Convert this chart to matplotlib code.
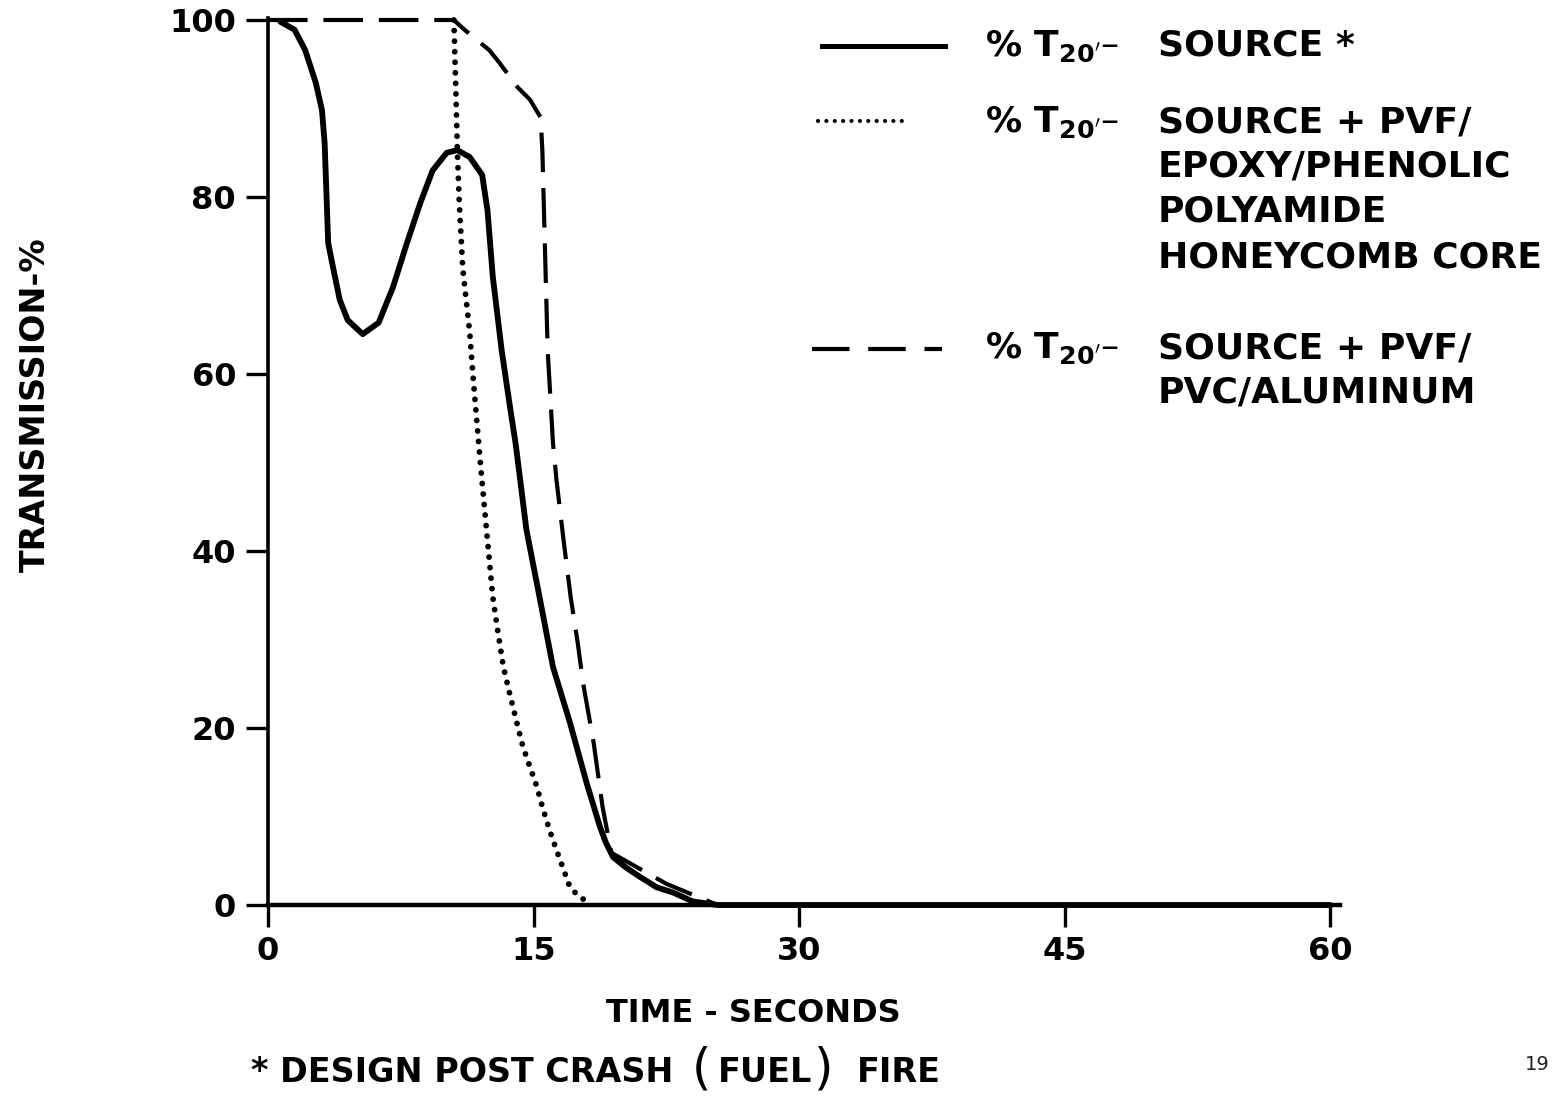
import matplotlib
matplotlib.use("Agg")
import matplotlib.pyplot as plt
from matplotlib.lines import Line2D

plt.rcParams["font.family"] = ["DejaVu Sans"]
plt.rcParams["font.weight"] = "bold"
plt.rcParams["mathtext.fontset"] = "dejavusans"
plt.rcParams["mathtext.default"] = "bf"

# time (s) and transmission (%)
t_source = [0.7, 1.5, 2.1, 2.7, 3.05, 3.2, 3.3, 3.4, 3.7, 4.05, 4.5, 5.35, 6.25, 7.06,
            7.85, 8.6, 9.3, 10.1, 10.7, 11.4, 12.1, 12.4, 12.7, 13.2, 13.7, 14.0, 14.6,
            15.35, 16.1, 17.06, 18.0, 18.76, 19.1, 19.5, 20.25, 21.0, 21.96, 22.9, 24.0,
            25.4, 60]
v_source = [99.8, 98.9, 96.6, 92.9, 89.8, 86.1, 80.5, 74.8, 71.8, 68.4, 66.1, 64.5, 65.8,
            69.8, 74.8, 79.3, 83.0, 85.0, 85.3, 84.5, 82.5, 78.5, 71.0, 62.7, 55.9, 52.0,
            42.4, 34.7, 26.9, 20.6, 13.8, 8.8, 7.0, 5.4, 4.2, 3.2, 2.0, 1.4, 0.4, 0, 0]

t_epoxy = [10.5, 10.6, 10.7, 10.8, 11.0, 11.4, 11.6, 12.0, 12.4, 12.7, 13.0, 13.3, 13.7,
           14.06, 14.4, 14.8, 15.2, 15.5, 15.9, 16.3, 16.7, 17.06, 17.6, 18.2]
v_epoxy = [100, 93, 85.2, 79.7, 72, 64.6, 59.3, 49.9, 41.2, 34.8, 30.7, 26.9, 23.5, 20.6,
           17.9, 15.6, 13.3, 11.1, 8.5, 6.2, 4.0, 2.0, 0.9, 0.2]

t_alum = [0, 10.5, 11.1, 12.5, 13.1, 14.1, 14.8, 15.4, 15.5, 15.65, 15.8, 16.1, 16.3,
          16.7, 17.1, 17.5, 17.8, 18.4, 18.9, 19.4, 22.5, 25.4]
v_alum = [100, 100, 98.9, 96.6, 95.1, 92.4, 91, 89, 85.3, 74, 62.7, 52.2, 48, 41.2, 34.8,
          29.6, 25.1, 18.3, 11.1, 5.9, 2.4, 0]

x_ticks = [0, 15, 30, 45, 60]
y_ticks = [0, 20, 40, 60, 80, 100]

W, H = 1564, 1096
fig = plt.figure(figsize=(W / 100, H / 100), dpi=100)
ax = fig.add_axes([268 / W, 1 - 905 / H, (1340 - 268) / W, (905 - 18) / H])


def fx(px):
    return px / W


def fy(py):
    return 1 - py / H


ax.plot(t_source, v_source, color="black", lw=4.2, solid_capstyle="round",
        solid_joinstyle="round", clip_on=False)
ax.plot(t_epoxy, v_epoxy, color="black", lw=4.2, linestyle=(0, (0.01, 1.8)),
        dash_capstyle="round", clip_on=False)
ax.plot(t_alum, v_alum, color="black", lw=3.0, linestyle=(0, (9.5, 3.8)),
        clip_on=False)

ax.set_xlim(0, (1340 - 268) / 17.7)
ax.set_ylim(0, (905 - 18) / 8.85)
ax.set_xticks(x_ticks)
ax.set_yticks(y_ticks)
ax.tick_params(axis="both", direction="out", width=2.4, length=16, labelsize=23)
ax.tick_params(axis="y", pad=7)
ax.tick_params(axis="x", pad=6)
for lab in ax.get_xticklabels() + ax.get_yticklabels():
    lab.set_fontweight("bold")
for s in ["top", "right"]:
    ax.spines[s].set_visible(False)
ax.spines["left"].set_linewidth(2.6)
ax.spines["bottom"].set_linewidth(3.2)
ax.set_facecolor("none")

# axis titles
fig.text(fx(35), fy(405), "TRANSMISSION-%", rotation=90, ha="center", va="center",
         fontsize=24, fontweight="bold")
fig.text(fx(753), fy(1013), "TIME - SECONDS", ha="center", va="center",
         fontsize=23, fontweight="bold")

# footnote
fig.text(fx(250), fy(1072), "*", ha="left", va="center", fontsize=24, fontweight="bold")
fig.text(fx(280), fy(1072), "DESIGN POST CRASH", ha="left", va="center", fontsize=24,
         fontweight="bold")
fig.text(fx(692), fy(1070), "(", ha="left", va="center", fontsize=36, fontweight="normal")
fig.text(fx(718), fy(1072), "FUEL", ha="left", va="center", fontsize=24, fontweight="bold")
fig.text(fx(814), fy(1070), ")", ha="left", va="center", fontsize=36, fontweight="normal")
fig.text(fx(857), fy(1072), "FIRE", ha="left", va="center", fontsize=24, fontweight="bold")
fig.text(fx(1537), fy(1065), "19", ha="center", va="center", fontsize=14,
         fontweight="normal", color="#222222")

# legend samples
fig.add_artist(Line2D([fx(822), fx(945)], [fy(46), fy(46)], color="black", lw=3.6))
fig.add_artist(Line2D([fx(818), fx(904)], [fy(121), fy(121)], color="black", lw=3.0,
                      linestyle=(0, (0.01, 2.0)), dash_capstyle="round"))
fig.add_artist(Line2D([fx(812), fx(942)], [fy(349), fy(349)], color="black", lw=3.0,
                      linestyle=(0, (9, 4.5))))

prefix = r"% T$_{20'}$–"
rows = [
    (46, ["SOURCE *"]),
    (122, ["SOURCE + PVF/", "EPOXY/PHENOLIC", "POLYAMIDE", "HONEYCOMB CORE"]),
    (348, ["SOURCE + PVF/", "PVC/ALUMINUM"]),
]
for y0, lines in rows:
    fig.text(fx(985), fy(y0), prefix, ha="left", va="center", fontsize=26,
             fontweight="bold")
    for i, line in enumerate(lines):
        fig.text(fx(1158), fy(y0 + i * 45), line, ha="left", va="center", fontsize=26,
                 fontweight="bold")

fig.savefig("out.png", dpi=100)
